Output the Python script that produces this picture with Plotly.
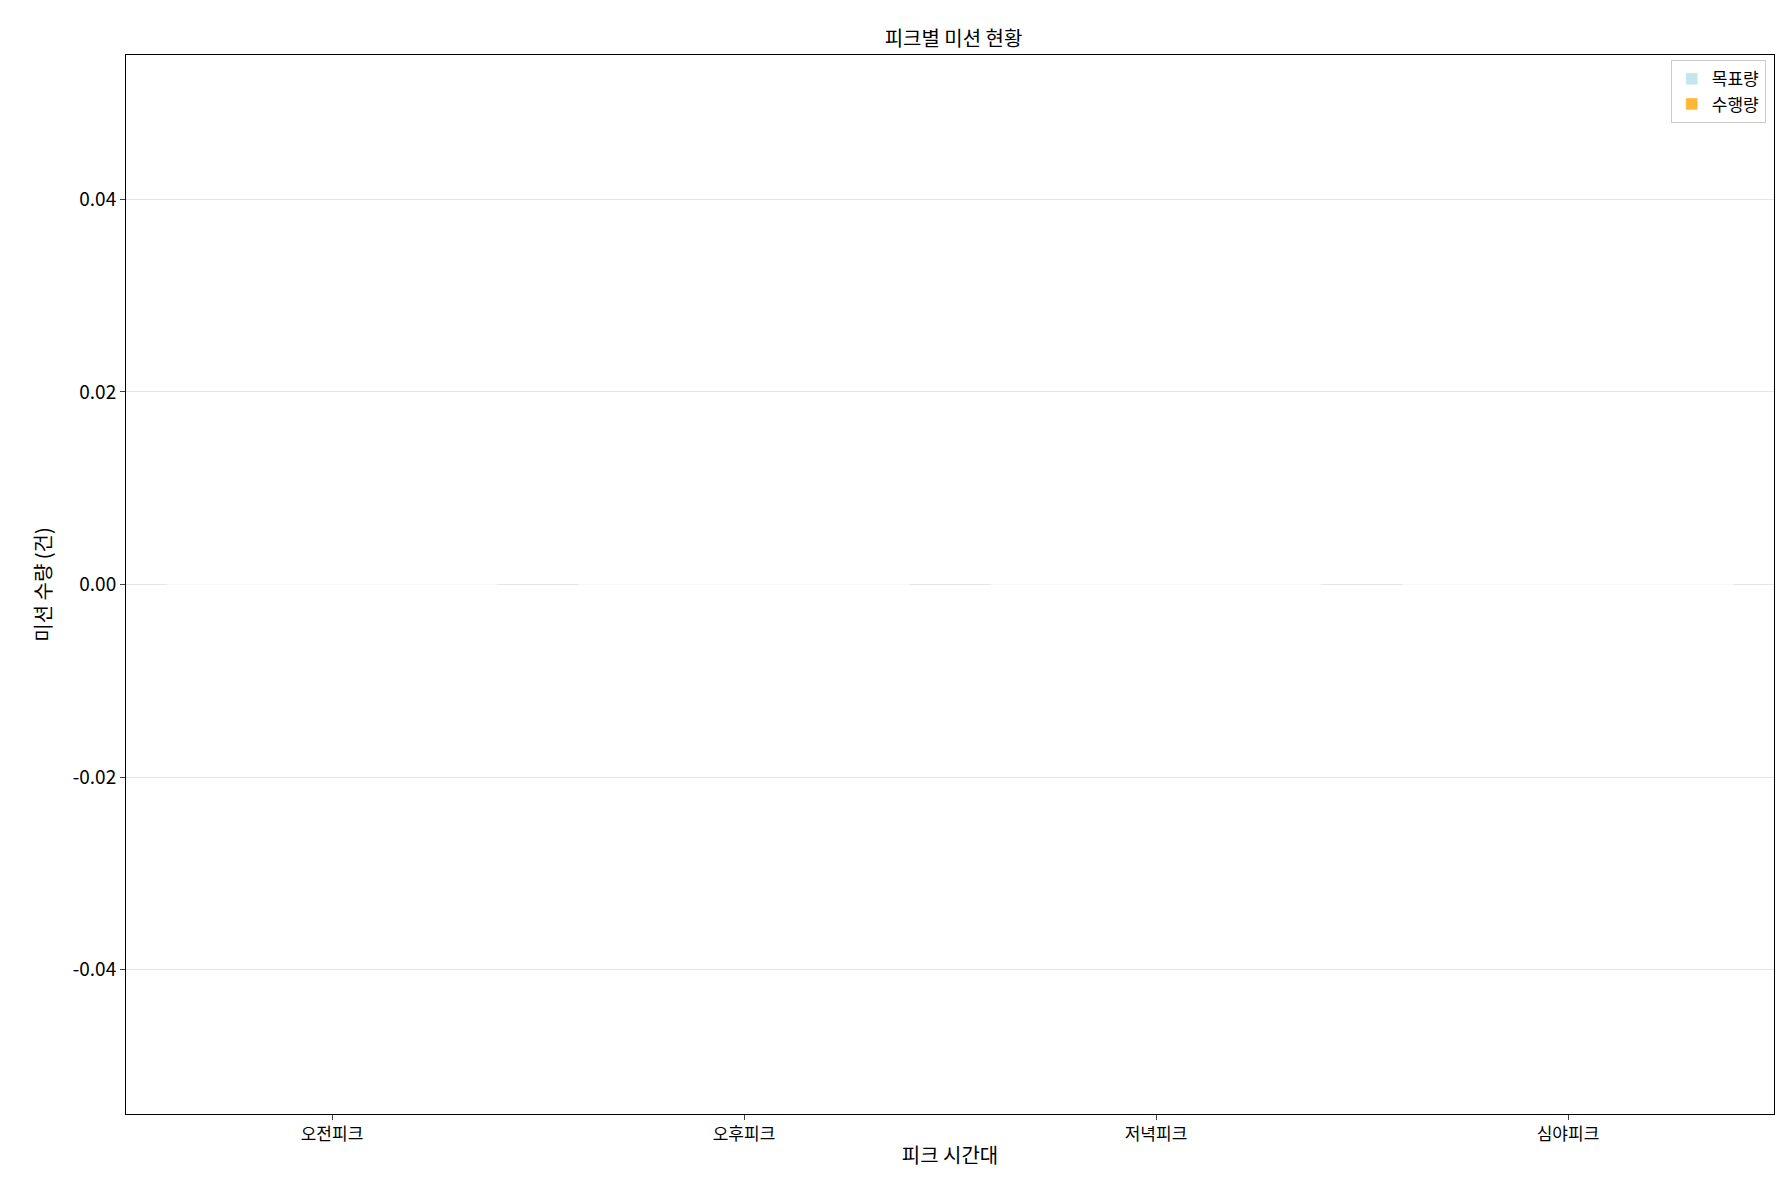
import plotly.graph_objects as go

# peak time slots and mission counts (all zero in the reference)
peaks = ["오전피크", "오후피크", "저녁피크", "심야피크"]
target = [0, 0, 0, 0]
done = [0, 0, 0, 0]
y_ticks = [-0.04, -0.02, 0, 0.02, 0.04]
y_labels = ["-0.04", "-0.02", "0.00", "0.02", "0.04"]

fig = go.Figure()
fig.add_trace(go.Bar(x=peaks, y=target, name="목표량",
                     marker=dict(color="rgba(173,216,230,0.7)")))
fig.add_trace(go.Bar(x=peaks, y=done, name="수행량",
                     marker=dict(color="rgba(255,165,0,0.8)")))

fig.update_layout(
    width=1784, height=1185,
    barmode="group",
    template="simple_white",
    font=dict(family="Noto Sans CJK KR", size=17, color="black"),
    title=dict(text="피크별 미션 현황", x=0.53, xanchor="center", y=0.98,
               font=dict(size=20)),
    margin=dict(l=118, r=18, t=47, b=79),
    legend=dict(x=0.995, y=0.995, xanchor="right", yanchor="top",
                bordercolor="#cccccc", borderwidth=1, font=dict(size=17)),
    plot_bgcolor="white",
)
fig.update_xaxes(title_text="피크 시간대", showline=True, mirror=True,
                 linecolor="black", ticks="outside", title_standoff=4)
fig.update_yaxes(title_text="미션 수량 (건)", range=[-0.055, 0.055],
                 tickvals=y_ticks, ticktext=y_labels,
                 showgrid=True, gridcolor="#e6e6e6", showline=True, mirror=True,
                 linecolor="black", ticks="outside", zeroline=False,
                 tickfont=dict(size=19))

fig.write_html("out.html")
